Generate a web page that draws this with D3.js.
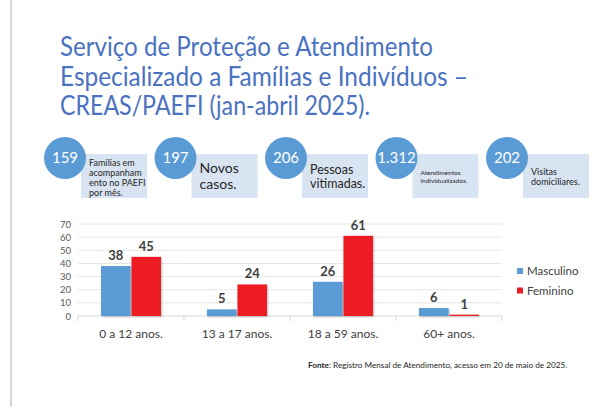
<!DOCTYPE html>
<html>
<head>
<meta charset="utf-8">
<script src="https://cdn.jsdelivr.net/npm/d3@7"></script>
<style>
  body { margin: 0; background: #fff; }
  svg { display: block; }
</style>
</head>
<body>
<svg id="chart" width="614" height="409"></svg>
<script>
// title lines
var titleLines = ["Serviço de Proteção e Atendimento",
                  "Especializado a Famílias e Indivíduos –",
                  "CREAS/PAEFI (jan-abril 2025)."];
var titleWidths = [373, 408, 310];

// summary bubbles
var statValues = ["159", "197", "206", "1.312", "202"];
var statTexts = [
    ["Famílias em", "acompanham", "ento no PAEFI", "por mês."],
    ["Novos", "casos."],
    ["Pessoas", "vitimadas."],
    ["Atendimentos", "individualizados."],
    ["Visitas", "domiciliares."]
];
var statFontSizes = [9, 14, 12.5, 6.5, 9];
var statLineHeights = [10, 16, 14, 7.5, 10];

// bar chart data
var ageGroups = ["0 a 12 anos.", "13 a 17 anos.", "18 a 59 anos.", "60+ anos."];
var seriesNames = ["Masculino", "Feminino"];
var masculino = [38, 5, 26, 6];
var feminino = [45, 24, 61, 1];
var yTicks = [0, 10, 20, 30, 40, 50, 60, 70];

var colors = {"Masculino": "#5b9bd5", "Feminino": "#ed1c24"};

var svg = d3.select("#chart");

// left border of the slide
svg.append("line")
    .attr("x1", 11).attr("x2", 11)
    .attr("y1", 0).attr("y2", 407)
    .attr("stroke", "#d6d6d6")
    .attr("stroke-width", 2);

// title
svg.append("g").selectAll("text")
    .data(titleLines)
    .join("text")
    .attr("x", 60)
    .attr("y", (d, i) => 56 + i * 29.5)
    .attr("fill", "#4a72c0")
    .attr("font-family", "Lato, 'Open Sans', sans-serif")
    .attr("font-size", 26)
    .attr("textLength", (d, i) => titleWidths[i])
    .attr("lengthAdjust", "spacingAndGlyphs")
    .text(d => d);

// bubbles + boxes
var stats = svg.append("g");
statValues.forEach(function(v, i) {
    var cx = 65 + i * 110.5;
    var g = stats.append("g");
    g.append("rect")
        .attr("x", cx + 16).attr("y", 154)
        .attr("width", 66).attr("height", 44)
        .attr("fill", "#d9e4f2");
    g.append("circle")
        .attr("cx", cx).attr("cy", 158)
        .attr("r", 21)
        .attr("fill", "#5b9bd5");
    g.append("text")
        .attr("x", cx).attr("y", 158)
        .attr("dy", "0.35em")
        .attr("text-anchor", "middle")
        .attr("fill", "#fff")
        .attr("font-family", "Lato, sans-serif")
        .attr("font-size", 15)
        .text(v);
    var fs = statFontSizes[i];
    var lines = statTexts[i];
    var lh = statLineHeights[i];
    var mid = i == 0 ? 178 : 176.5;
    var top = mid - (lines.length - 1) * lh / 2;
    g.append("g").selectAll("text")
        .data(lines)
        .join("text")
        .attr("x", cx + 24)
        .attr("y", (d, j) => top + j * lh)
        .attr("dy", "0.35em")
        .attr("fill", "#262626")
        .attr("font-family", "Lato, sans-serif")
        .attr("font-size", fs)
        .text(d => d);
});

// bar chart
var x0 = d3.scaleBand().domain(ageGroups).range([78, 502]);
var x1 = d3.scaleBand().domain(seriesNames)
    .range([0, 60]).paddingInner(0.03);
var y = d3.scaleLinear().domain([0, 70]).range([316, 224]);

var grid = svg.append("g");
grid.selectAll("line")
    .data(yTicks.slice(1))
    .join("line")
    .attr("x1", 78).attr("x2", 502)
    .attr("y1", d => y(d)).attr("y2", d => y(d))
    .attr("stroke", "#e6e6e6");

var yAxis = svg.append("g")
    .attr("transform", "translate(78,0)")
    .call(d3.axisLeft(y).tickValues(yTicks).tickSize(0).tickPadding(7));
yAxis.select(".domain").remove();
yAxis.selectAll("text")
    .attr("fill", "#595959")
    .attr("font-family", "Lato, sans-serif")
    .attr("font-size", 9.5);

// baseline with category separators
var xAxis = svg.append("g")
    .attr("transform", "translate(0,316)");
xAxis.append("line")
    .attr("x1", 78).attr("x2", 502)
    .attr("stroke", "#d9d9d9");
xAxis.selectAll(".sep")
    .data(ageGroups.map(d => x0(d)).concat([502]))
    .join("line")
    .attr("class", "sep")
    .attr("x1", d => d).attr("x2", d => d)
    .attr("y1", 0).attr("y2", 5)
    .attr("stroke", "#d9d9d9");
xAxis.selectAll(".cat")
    .data(ageGroups)
    .join("text")
    .attr("class", "cat")
    .attr("x", d => x0(d) + x0.bandwidth() / 2)
    .attr("y", 22)
    .attr("text-anchor", "middle")
    .attr("fill", "#404040")
    .attr("font-family", "Lato, sans-serif")
    .attr("font-size", 12)
    .text(d => d);

var rows = ageGroups.map((g, i) => ({
    group: g,
    values: [{key: "Masculino", value: masculino[i]},
             {key: "Feminino", value: feminino[i]}]
}));

var off = (x0.bandwidth() - 60) / 2;
var groups = svg.append("g").selectAll("g")
    .data(rows)
    .join("g")
    .attr("transform", d => "translate(" + (x0(d.group) + off) + ",0)");

groups.selectAll("rect")
    .data(d => d.values)
    .join("rect")
    .attr("x", d => x1(d.key))
    .attr("y", d => y(d.value))
    .attr("width", x1.bandwidth())
    .attr("height", d => 316 - y(d.value))
    .attr("fill", d => colors[d.key])
    .style("filter", "drop-shadow(1px 1px 1px rgba(0,0,0,0.25))");

groups.selectAll("text")
    .data(d => d.values)
    .join("text")
    .attr("x", d => x1(d.key) + x1.bandwidth() / 2)
    .attr("y", d => y(d.value) - 6)
    .attr("text-anchor", "middle")
    .attr("fill", "#404040")
    .attr("font-family", "Lato, sans-serif")
    .attr("font-weight", "bold")
    .attr("font-size", 13)
    .text(d => d.value);

// legend
var legend = svg.append("g").selectAll("g")
    .data(seriesNames)
    .join("g")
    .attr("transform", (d, i) => "translate(517," + (271 + i * 19.5) + ")");
legend.append("rect")
    .attr("x", 0).attr("y", -3)
    .attr("width", 6).attr("height", 6)
    .attr("fill", d => colors[d]);
legend.append("text")
    .attr("x", 10).attr("y", 0)
    .attr("dy", "0.35em")
    .attr("fill", "#404040")
    .attr("font-family", "Lato, sans-serif")
    .attr("font-size", 11.5)
    .text(d => d);

// source note
var note = svg.append("text")
    .attr("x", 308).attr("y", 368)
    .attr("fill", "#262626")
    .attr("font-family", "Lato, sans-serif")
    .attr("font-size", 8.2);
note.append("tspan").attr("font-weight", "bold").text("Fonte");
note.append("tspan").text(": Registro Mensal de Atendimento, acesso em 20 de maio de 2025.");
</script>
</body>
</html>
